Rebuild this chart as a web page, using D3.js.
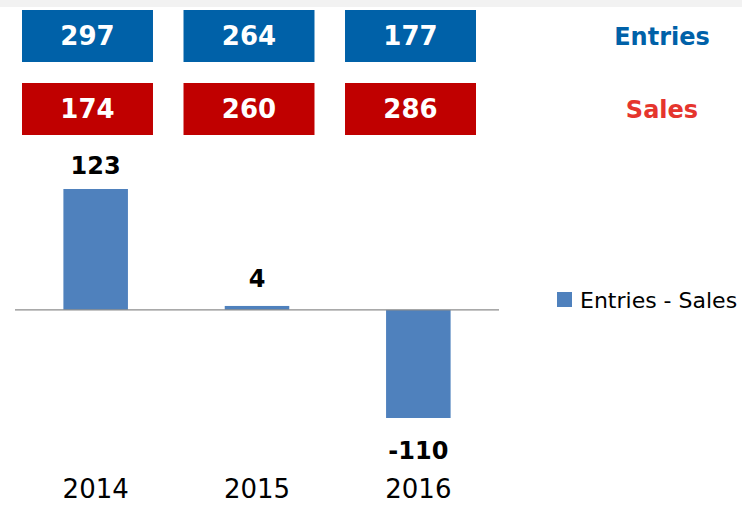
<!DOCTYPE html>
<html>
<head>
<meta charset="utf-8">
<script src="https://cdn.jsdelivr.net/npm/d3@7/dist/d3.min.js"></script>
<style>
  html, body { margin: 0; padding: 0; background: #fff; }
  svg { display: block; }
  text { font-family: "DejaVu Sans", sans-serif; }
</style>
</head>
<body>
<svg id="chart" width="742" height="506"></svg>
<script>
const years = ["2014", "2015", "2016"];
const entries = [297, 264, 177];
const sales = [174, 260, 286];
const diff = [123, 4, -110];
const seriesName = "Entries - Sales";

const width = 742, height = 506;
const svg = d3.select("#chart");

// thin grey strip at the very top
svg.append("rect").attr("x", 0).attr("y", 0).attr("width", width).attr("height", 7).attr("fill", "#f2f2f2");

// boxes with entries / sales per year
const xBox = d3.scaleBand().domain(years).range([22, 476]).paddingInner(0.189).paddingOuter(0);
const boxRows = [
  { name: "Entries", values: entries, fill: "#0061a8", label: "#0061a8", y: 10 },
  { name: "Sales", values: sales, fill: "#c00000", label: "#e5352d", y: 83 }
];
const boxH = 52;

boxRows.forEach((row) => {
  const g = svg.append("g");
  g.selectAll("rect").data(years).join("rect")
    .attr("x", (d) => xBox(d))
    .attr("y", row.y)
    .attr("width", xBox.bandwidth())
    .attr("height", boxH)
    .attr("fill", row.fill);
  g.selectAll("text").data(years).join("text")
    .attr("x", (d) => xBox(d) + xBox.bandwidth() / 2)
    .attr("y", row.y + boxH / 2)
    .attr("dy", "0.36em")
    .attr("text-anchor", "middle")
    .attr("font-size", 26)
    .attr("font-weight", "bold")
    .attr("fill", "#fff")
    .text((d, i) => row.values[i]);
  svg.append("text")
    .attr("x", 662)
    .attr("y", row.y + boxH / 2)
    .attr("dy", "0.36em")
    .attr("text-anchor", "middle")
    .attr("font-size", 24)
    .attr("font-weight", "bold")
    .attr("fill", row.label)
    .text(row.name);
});

// difference bar chart
const x = d3.scaleBand().domain(years).range([15, 499]).paddingInner(0.6).paddingOuter(0.3);
const y = d3.scaleLinear().domain([-110, 123]).range([418, 189]);

svg.append("g").selectAll("rect").data(diff).join("rect")
  .attr("x", (d, i) => x(years[i]))
  .attr("y", (d) => y(Math.max(0, d)))
  .attr("width", x.bandwidth())
  .attr("height", (d) => Math.abs(y(d) - y(0)))
  .attr("fill", "#4f81bd");

svg.append("line")
  .attr("x1", 15).attr("x2", 499)
  .attr("y1", y(0)).attr("y2", y(0))
  .attr("stroke", "#8c8c8c").attr("stroke-width", 1.3);

svg.append("g").selectAll("text").data(diff).join("text")
  .attr("x", (d, i) => x(years[i]) + x.bandwidth() / 2)
  .attr("y", (d) => d >= 0 ? y(d) - 15 - (d < 20 ? 4 : 0) : y(d) + 41)
  .attr("text-anchor", "middle")
  .attr("font-size", 24)
  .attr("font-weight", "bold")
  .attr("fill", "#000")
  .text((d) => d);

const xAxis = svg.append("g")
  .attr("transform", "translate(0,480)")
  .call(d3.axisBottom(x).tickSize(0).tickPadding(0));
xAxis.select(".domain").remove();
xAxis.selectAll("text")
  .attr("font-family", "DejaVu Sans, sans-serif")
  .attr("font-size", 26)
  .attr("fill", "#000")
  .attr("dy", "0.71em");

// legend
const legend = svg.append("g").attr("transform", "translate(557,292)");
legend.append("rect").attr("width", 15).attr("height", 15).attr("fill", "#4f81bd");
legend.append("text")
  .attr("x", 23).attr("y", 8).attr("dy", "0.36em")
  .attr("font-size", 22).attr("fill", "#000")
  .text(seriesName);
</script>
</body>
</html>
